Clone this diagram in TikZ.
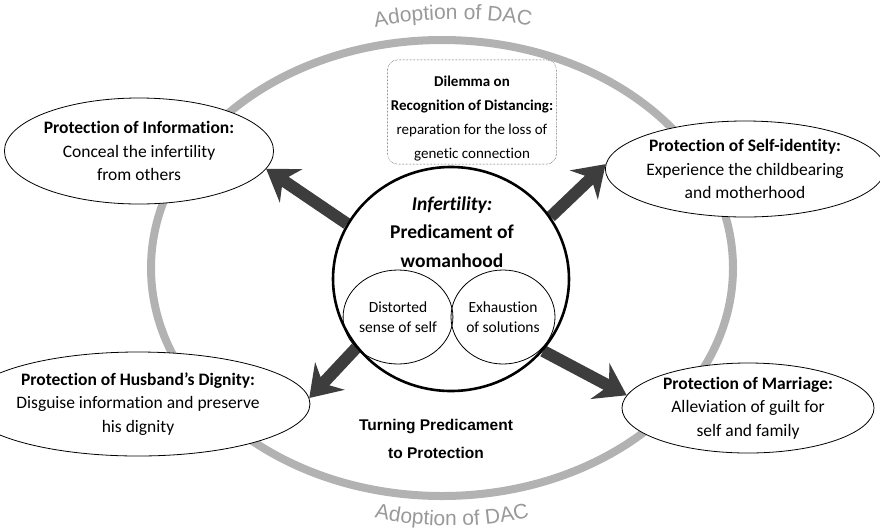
\documentclass[tikz,border=0pt]{standalone}
\usepackage{fontspec}
\setmainfont{Carlito}[Ligatures=NoCommon]
\newfontfamily\arialfont{Liberation Sans}
\usetikzlibrary{arrows.meta,shapes.geometric,decorations.text,backgrounds}

\begin{document}
\begin{tikzpicture}[x=1pt,y=-1pt,
  protect/.style={draw,ellipse,fill=white,inner sep=0pt,align=center,line width=0.8pt,
    font=\fontsize{17.5}{23.5}\selectfont},
  bigarrow/.style={line width=12pt,draw=black!76,-{Stealth[length=30pt,width=40pt,inset=10pt]}},
  sub/.style={draw,ellipse,minimum width=104pt,minimum height=94pt,inner sep=0pt,align=center,
    line width=0.8pt,font=\fontsize{15.5}{20}\selectfont}]
  \useasboundingbox (0,0) rectangle (880,531);
  % centre
  \node[draw,ellipse,fill=white,line width=2.6pt,minimum width=236pt,minimum height=224pt] (core) at (451,279) {};
  \node[align=center,font=\fontsize{19.5}{28.5}\selectfont\bfseries] (plight) at (452,232)
    {\textit{Infertility:}\\Predicament of\\womanhood};
  \node[sub] (distort) at (398,317) {Distorted\\sense of self};
  \node[sub] (exhaust) at (503,317) {Exhaustion\\of solutions};
  \node[draw,densely dotted,rounded corners=10pt,fill=white,minimum width=161pt,minimum height=98pt,
    align=center,font=\fontsize{15}{24}\selectfont] (dilemma) at (472,112)
    {\rule{0pt}{23pt}\textbf{Dilemma on}\\\textbf{Recognition of Distancing:}\\reparation for the loss of\\genetic connection};
  % four protections
  \node[protect,minimum width=268pt,minimum height=106pt] (info) at (139,151)
    {\textbf{Protection of Information:}\\Conceal the infertility\\from others};
  \node[protect,minimum width=254pt,minimum height=96pt] (selfid) at (745,169)
    {\textbf{Protection of Self-identity:}\\Experience the childbearing\\and motherhood};
  \node[protect,minimum width=266pt,minimum height=104pt] (husband) at (138,404)
    {\textbf{Protection of Husband’s Dignity:}\\Disguise information and preserve\\his dignity};
  \node[protect,minimum width=252pt,minimum height=90pt] (marriage) at (748,408)
    {\textbf{Protection of Marriage:}\\Alleviation of guilt for\\self and family};
  \node[align=center,font=\arialfont\bfseries\fontsize{15.5}{28}\selectfont] (turn) at (436,439)
    {Turning Predicament\\to Protection};
  \begin{scope}[on background layer]
    \draw[line width=8pt,gray!60] (442,268) ellipse [x radius=291,y radius=228];
    \draw[bigarrow] (core.152) -- (info.-8);
    \draw[bigarrow] (core.32) -- (selfid.178);
    \draw[bigarrow] (core.216) -- (husband.2);
    \draw[bigarrow] (core.-38) -- (marriage.174);
  \end{scope}
  % curved labels
  \path[decorate,decoration={text along path,text align=center,
    text={|\arialfont\fontsize{21}{21}\selectfont\color{gray!80}|Adoption of DAC}}]
    (362,30) .. controls (420,16) and (490,16) .. (544,29);
  \path[decorate,decoration={text along path,text align=center,
    text={|\arialfont\fontsize{21}{21}\selectfont\color{gray!80}|Adoption of DAC}}]
    (360,514) .. controls (420,530) and (490,530) .. (544,513);
\end{tikzpicture}
\end{document}
